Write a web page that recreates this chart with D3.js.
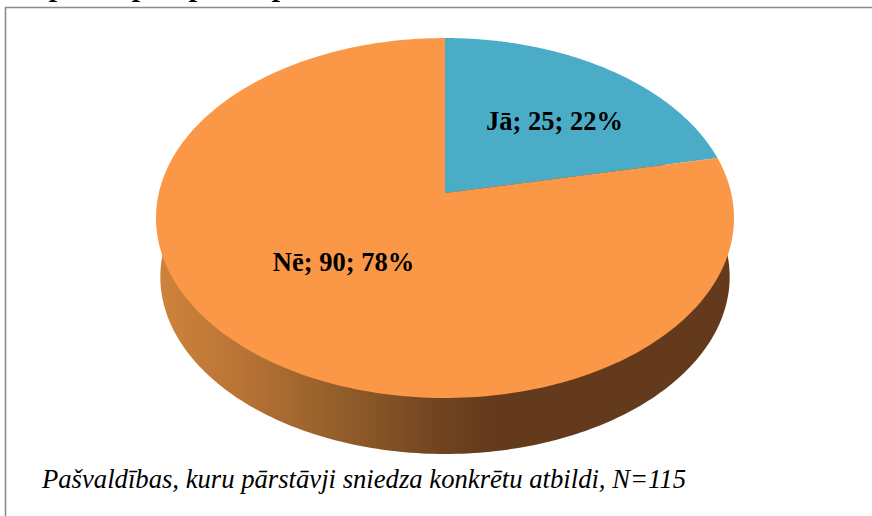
<!DOCTYPE html>
<html><head><meta charset="utf-8">
<script src="https://cdnjs.cloudflare.com/ajax/libs/d3/7.8.5/d3.min.js"></script>
<style>html,body{margin:0;padding:0;background:#fff}svg{display:block}
text{font-family:"Liberation Serif",serif;fill:#000}</style></head>
<body><svg id="c" width="872" height="516"></svg>
<script>
const categories = ["Jā", "Nē"];
const seriesValues = [25, 90];
const percentLabels = ["22%", "78%"];
const sliceColors = ["#4bacc8", "#fb9847"];
const footnote = "Pašvaldības, kuru pārstāvji sniedza konkrētu atbildi, N=115";
const titleFragments = ["p", "p", "p", "p"];
const titleOffsets = [60, 143, 200, 283];

const svg = d3.select("#c");
const defs = svg.append("defs");
const grad = defs.append("linearGradient").attr("id","wall").attr("gradientUnits","userSpaceOnUse")
  .attr("x1",156).attr("x2",734).attr("y1",0).attr("y2",0);
[[0,"#cf843c"],[0.15,"#b87335"],[0.3,"#96602b"],[0.5,"#6f4320"],[0.58,"#633b1c"],[1,"#633b1c"]]
  .forEach(s=>grad.append("stop").attr("offset",s[0]).attr("stop-color",s[1]));

svg.append("path").attr("d","M5.5,516V7.5H872").attr("fill","none").attr("stroke","#8c8c8c").attr("stroke-width",1.6);

svg.append("g").selectAll("text").data(titleFragments).join("text")
  .attr("x",(d,i)=>titleOffsets[i]-9).attr("y",-4).attr("font-size",30)
  .attr("font-weight","bold").attr("font-style","italic").text(d=>d);

const cx=445, a=286.2, k=0.1389, b=-149.7, y0=193;
const proj = (th,r=1)=>{const x=r*Math.sin(th),y=r*Math.cos(th),w=1+k*y;return [cx+a*x/w,(y0+b*y)/w];};
const pie = d3.pie().sort(null).value(d=>d)(seriesValues);
const line = d3.line();
const sliceD = s=>{const n=240,pts=[proj(0,0)];
  const scale=d3.scaleLinear().domain([0,n]).range([s.startAngle,s.endAngle]);
  d3.range(n+1).forEach(i=>pts.push(proj(scale(i))));
  return line(pts)+"Z";};

const rim=d3.range(361).map(i=>{const p=proj(i*Math.PI/180);return [cx+(p[0]-cx)*0.985,p[1]*0.985+56+5.97];});
svg.append("path").attr("d",line(rim)+"Z").attr("fill","url(#wall)");

svg.append("g").selectAll("path").data(pie).join("path")
  .attr("d",sliceD).attr("fill",(d,i)=>sliceColors[i]);

const labelPos=[[554.5,130],[343.5,271]];
svg.append("g").selectAll("text").data(categories).join("text")
  .attr("x",(d,i)=>labelPos[i][0]).attr("y",(d,i)=>labelPos[i][1])
  .attr("text-anchor","middle").attr("font-weight","bold").attr("font-size",26.5)
  .text((d,i)=>`${d}; ${seriesValues[i]}; ${percentLabels[i]}`);

svg.append("text").attr("x",42).attr("y",487.5).attr("font-style","italic").attr("font-size",27.5)
  .attr("textLength",644).attr("lengthAdjust","spacingAndGlyphs").text(footnote);
</script></body></html>
